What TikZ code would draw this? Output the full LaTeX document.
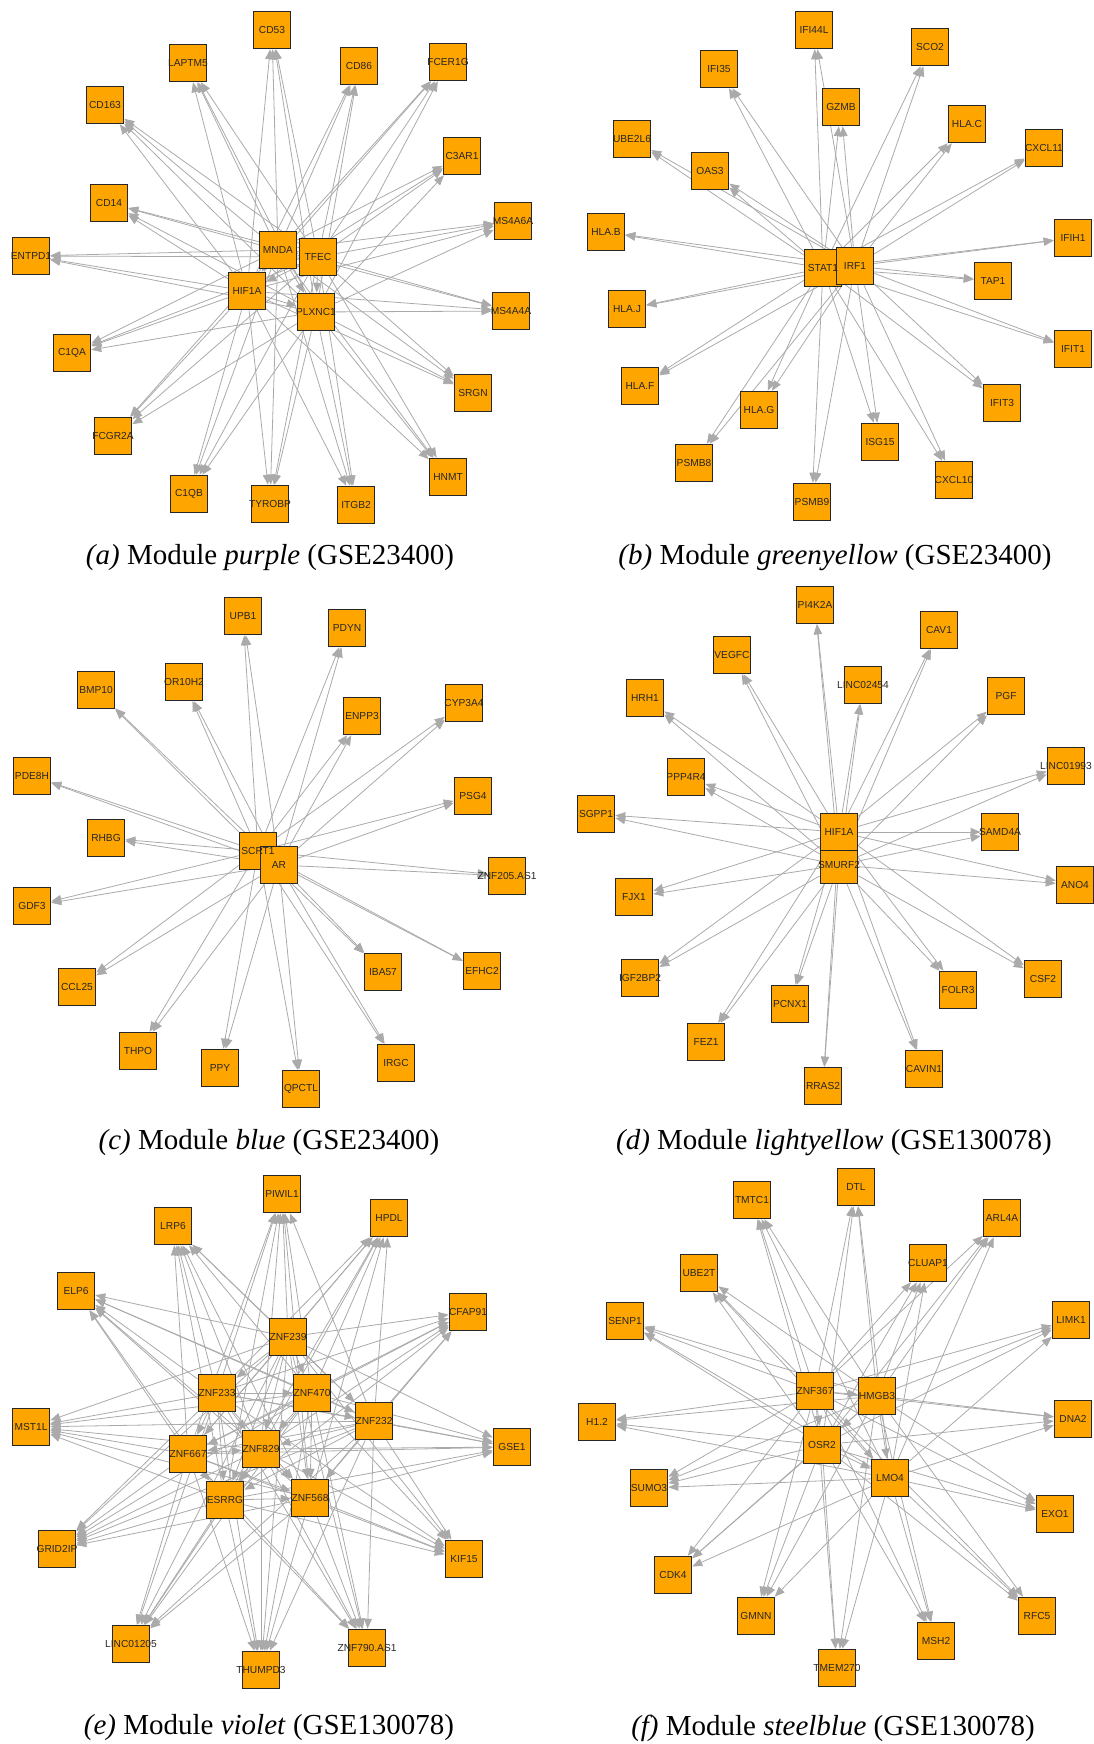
\documentclass[tikz,border=0pt]{standalone}
\usepackage{fontspec}
\setmainfont{Liberation Serif}
\newfontfamily\genefont{Liberation Sans}
\usetikzlibrary{arrows.meta, backgrounds}
\definecolor{geneorange}{RGB}{255,165,0}
\definecolor{edgegray}{RGB}{170,170,170}
\newcommand{\gn}[1]{\makebox[0pt]{#1}}

\begin{document}
\begin{tikzpicture}[x=0.5pt, y=-0.5pt]
    % Define styles
    \tikzstyle{gene} = [rectangle, draw=black!85, line width=0.6pt, fill=geneorange,
                        minimum size=18.7pt, inner sep=0pt, text=black!85,
                        font=\genefont\fontsize{5.1}{5}\selectfont]
    \tikzstyle{genelabel} = [inner sep=0pt, text=black!85, font=\genefont\fontsize{5.1}{5}\selectfont]
    \tikzstyle{edge} = [draw=edgegray, line width=0.4pt, -{Triangle[length=5pt, width=4pt]}]
    \tikzstyle{caption} = [font=\fontsize{14.5}{16}\selectfont]

    \useasboundingbox (0,0) rectangle (1093,1744);

    % (a) purple
    \node[gene] (a-cd53) at (272,30) {\gn{CD53}};
    \node[gene] (a-laptm5) at (188,63) {\gn{LAPTM5}};
    \node[gene] (a-cd86) at (359,66) {\gn{CD86}};
    \node[gene] (a-fcer1g) at (448,62) {\gn{FCER1G}};
    \node[gene] (a-cd163) at (105,105) {\gn{CD163}};
    \node[gene] (a-c3ar1) at (462,156) {\gn{C3AR1}};
    \node[gene] (a-cd14) at (109,203) {\gn{CD14}};
    \node[gene] (a-ms4a6a) at (513,221) {\gn{MS4A6A}};
    \node[gene] (a-entpd1) at (31,256) {\gn{ENTPD1}};
    \node[gene] (a-mnda) at (278,250) {\gn{MNDA}};
    \node[gene] (a-tfec) at (318,257) {\gn{TFEC}};
    \node[gene] (a-hif1a) at (247,291) {\gn{HIF1A}};
    \node[gene] (a-plxnc1) at (316,312) {\gn{PLXNC1}};
    \node[gene] (a-ms4a4a) at (511,311) {\gn{MS4A4A}};
    \node[gene] (a-c1qa) at (72,353) {\gn{C1QA}};
    \node[gene] (a-srgn) at (473,393) {\gn{SRGN}};
    \node[gene] (a-fcgr2a) at (113,436) {\gn{FCGR2A}};
    \node[gene] (a-hnmt) at (448,477) {\gn{HNMT}};
    \node[gene] (a-c1qb) at (189,494) {\gn{C1QB}};
    \node[gene] (a-tyrobp) at (270,504) {\gn{TYROBP}};
    \node[gene] (a-itgb2) at (356,505) {\gn{ITGB2}};
    \node[caption] (cap-a) at (270,558) {\textit{(a)} Module \textit{purple} (GSE23400)};

    % (b) greenyellow
    \node[gene] (b-ifi44l) at (814,30) {\gn{IFI44L}};
    \node[gene] (b-ifi35) at (719,69) {\gn{IFI35}};
    \node[gene] (b-sco2) at (930,47) {\gn{SCO2}};
    \node[gene] (b-gzmb) at (841,107) {\gn{GZMB}};
    \node[gene] (b-hlac) at (967,124) {\gn{HLA.C}};
    \node[gene] (b-ube2l6) at (632,139) {\gn{UBE2L6}};
    \node[gene] (b-cxcl11) at (1044,148) {\gn{CXCL11}};
    \node[gene] (b-oas3) at (710,171) {\gn{OAS3}};
    \node[gene] (b-hlab) at (606,232) {\gn{HLA.B}};
    \node[gene] (b-ifih1) at (1073,238) {\gn{IFIH1}};
    \node[gene] (b-stat1) at (823,268) {};
    \node[gene] (b-irf1) at (855,266) {\gn{IRF1}};
    \node[genelabel] (b-stat1-text) at (b-stat1) {\gn{STAT1}};
    \node[gene] (b-tap1) at (993,281) {\gn{TAP1}};
    \node[gene] (b-hlaj) at (627,309) {\gn{HLA.J}};
    \node[gene] (b-ifit1) at (1073,349) {\gn{IFIT1}};
    \node[gene] (b-hlaf) at (640,386) {\gn{HLA.F}};
    \node[gene] (b-hlag) at (759,410) {\gn{HLA.G}};
    \node[gene] (b-ifit3) at (1002,403) {\gn{IFIT3}};
    \node[gene] (b-isg15) at (880,442) {\gn{ISG15}};
    \node[gene] (b-psmb8) at (694,463) {\gn{PSMB8}};
    \node[gene] (b-cxcl10) at (954,480) {\gn{CXCL10}};
    \node[gene] (b-psmb9) at (812,502) {\gn{PSMB9}};
    \node[caption] (cap-b) at (835,558) {\textit{(b)} Module \textit{greenyellow} (GSE23400)};

    % (c) blue
    \node[gene] (c-upb1) at (243,616) {\gn{UPB1}};
    \node[gene] (c-pdyn) at (347,628) {\gn{PDYN}};
    \node[gene] (c-bmp10) at (96,690) {\gn{BMP10}};
    \node[gene] (c-or10h2) at (184,682) {\gn{OR10H2}};
    \node[gene] (c-enpp3) at (362,716) {\gn{ENPP3}};
    \node[gene] (c-cyp3a4) at (464,703) {\gn{CYP3A4}};
    \node[gene] (c-pde8h) at (32,776) {\gn{PDE8H}};
    \node[gene] (c-psg4) at (473,796) {\gn{PSG4}};
    \node[gene] (c-rhbg) at (106,838) {\gn{RHBG}};
    \node[gene] (c-scrt1) at (258,851) {};
    \node[gene] (c-ar) at (279,865) {\gn{AR}};
    \node[genelabel] (c-scrt1-text) at (c-scrt1) {\gn{SCRT1}};
    \node[gene] (c-znf205as1) at (507,876) {\gn{ZNF205.AS1}};
    \node[gene] (c-gdf3) at (32,906) {\gn{GDF3}};
    \node[gene] (c-iba57) at (383,972) {\gn{IBA57}};
    \node[gene] (c-efhc2) at (482,971) {\gn{EFHC2}};
    \node[gene] (c-ccl25) at (77,987) {\gn{CCL25}};
    \node[gene] (c-thpo) at (138,1051) {\gn{THPO}};
    \node[gene] (c-ppy) at (220,1068) {\gn{PPY}};
    \node[gene] (c-irgc) at (396,1063) {\gn{IRGC}};
    \node[gene] (c-qpctl) at (301,1089) {\gn{QPCTL}};
    \node[caption] (cap-c) at (269,1143) {\textit{(c)} Module \textit{blue} (GSE23400)};

    % (d) lightyellow
    \node[gene] (d-pi4k2a) at (815,605) {\gn{PI4K2A}};
    \node[gene] (d-cav1) at (939,630) {\gn{CAV1}};
    \node[gene] (d-vegfc) at (732,655) {\gn{VEGFC}};
    \node[gene] (d-linc02454) at (863,685) {\gn{LINC02454}};
    \node[gene] (d-hrh1) at (645,698) {\gn{HRH1}};
    \node[gene] (d-pgf) at (1006,696) {\gn{PGF}};
    \node[gene] (d-linc01993) at (1066,766) {\gn{LINC01993}};
    \node[gene] (d-ppp4r4) at (686,777) {\gn{PPP4R4}};
    \node[gene] (d-sgpp1) at (596,814) {\gn{SGPP1}};
    \node[gene] (d-smurf2) at (839,865) {\gn{SMURF2}};
    \node[gene] (d-hif1a) at (839,832) {\gn{HIF1A}};
    \node[gene] (d-samd4a) at (1000,832) {\gn{SAMD4A}};
    \node[gene] (d-ano4) at (1075,885) {\gn{ANO4}};
    \node[gene] (d-fjx1) at (634,897) {\gn{FJX1}};
    \node[gene] (d-igf2bp2) at (640,978) {\gn{IGF2BP2}};
    \node[gene] (d-csf2) at (1043,979) {\gn{CSF2}};
    \node[gene] (d-folr3) at (958,990) {\gn{FOLR3}};
    \node[gene] (d-pcnx1) at (790,1004) {\gn{PCNX1}};
    \node[gene] (d-fez1) at (706,1042) {\gn{FEZ1}};
    \node[gene] (d-cavin1) at (924,1069) {\gn{CAVIN1}};
    \node[gene] (d-rras2) at (823,1086) {\gn{RRAS2}};
    \node[caption] (cap-d) at (834,1143) {\textit{(d)} Module \textit{lightyellow} (GSE130078)};

    % (e) violet
    \node[gene] (e-piwil1) at (282,1194) {\gn{PIWIL1}};
    \node[gene] (e-hpdl) at (389,1218) {\gn{HPDL}};
    \node[gene] (e-lrp6) at (173,1226) {\gn{LRP6}};
    \node[gene] (e-elp6) at (76,1291) {\gn{ELP6}};
    \node[gene] (e-cfap91) at (468,1312) {\gn{CFAP91}};
    \node[gene] (e-znf239) at (288,1337) {\gn{ZNF239}};
    \node[gene] (e-znf233) at (217,1393) {\gn{ZNF233}};
    \node[gene] (e-znf470) at (312,1393) {\gn{ZNF470}};
    \node[gene] (e-znf232) at (374,1421) {\gn{ZNF232}};
    \node[gene] (e-mst1l) at (31,1427) {\gn{MST1L}};
    \node[gene] (e-gse1) at (512,1447) {\gn{GSE1}};
    \node[gene] (e-znf667) at (188,1454) {\gn{ZNF667}};
    \node[gene] (e-znf829) at (261,1449) {\gn{ZNF829}};
    \node[gene] (e-esrrg) at (225,1500) {\gn{ESRRG}};
    \node[gene] (e-znf568) at (310,1498) {\gn{ZNF568}};
    \node[gene] (e-grid2ip) at (57,1549) {\gn{GRID2IP}};
    \node[gene] (e-kif15) at (464,1559) {\gn{KIF15}};
    \node[gene] (e-linc01205) at (131,1644) {\gn{LINC01205}};
    \node[gene] (e-znf790as1) at (367,1648) {\gn{ZNF790.AS1}};
    \node[gene] (e-thumpd3) at (261,1670) {\gn{THUMPD3}};
    \node[caption] (cap-e) at (269,1728) {\textit{(e)} Module \textit{violet} (GSE130078)};

    % (f) steelblue
    \node[gene] (f-dtl) at (856,1187) {\gn{DTL}};
    \node[gene] (f-tmtc1) at (752,1200) {\gn{TMTC1}};
    \node[gene] (f-arl4a) at (1002,1218) {\gn{ARL4A}};
    \node[gene] (f-ube2t) at (699,1273) {\gn{UBE2T}};
    \node[gene] (f-cluap1) at (928,1263) {\gn{CLUAP1}};
    \node[gene] (f-senp1) at (625,1321) {\gn{SENP1}};
    \node[gene] (f-limk1) at (1071,1320) {\gn{LIMK1}};
    \node[gene] (f-znf367) at (815,1391) {\gn{ZNF367}};
    \node[gene] (f-hmgb3) at (877,1396) {\gn{HMGB3}};
    \node[gene] (f-h12) at (597,1422) {\gn{H1.2}};
    \node[gene] (f-dna2) at (1073,1419) {\gn{DNA2}};
    \node[gene] (f-osr2) at (822,1445) {\gn{OSR2}};
    \node[gene] (f-lmo4) at (890,1478) {\gn{LMO4}};
    \node[gene] (f-sumo3) at (649,1488) {\gn{SUMO3}};
    \node[gene] (f-exo1) at (1055,1514) {\gn{EXO1}};
    \node[gene] (f-cdk4) at (673,1575) {\gn{CDK4}};
    \node[gene] (f-gmnn) at (756,1616) {\gn{GMNN}};
    \node[gene] (f-rfc5) at (1037,1616) {\gn{RFC5}};
    \node[gene] (f-msh2) at (936,1641) {\gn{MSH2}};
    \node[gene] (f-tmem270) at (837,1668) {\gn{TMEM270}};
    \node[caption] (cap-f) at (833,1728) {\textit{(f)} Module \textit{steelblue} (GSE130078)};

    % Draw arrows (under the boxes)
    \begin{scope}[on background layer]
    \foreach \h in {a-mnda, a-tfec, a-hif1a, a-plxnc1}
        \foreach \t in {a-cd53, a-laptm5, a-cd86, a-fcer1g, a-cd163, a-c3ar1, a-cd14, a-ms4a6a, a-entpd1,
                        a-ms4a4a, a-c1qa, a-srgn, a-fcgr2a, a-hnmt, a-c1qb, a-tyrobp, a-itgb2}
            \draw[edge] (\h) -- (\t);
    \draw[edge] (a-mnda) -- (a-tfec);
    \draw[edge] (a-mnda) -- (a-hif1a);
    \draw[edge] (a-mnda) -- (a-plxnc1);
    \draw[edge] (a-tfec) -- (a-hif1a);
    \draw[edge] (a-tfec) -- (a-plxnc1);
    \draw[edge] (a-hif1a) -- (a-plxnc1);

    \foreach \h in {b-stat1, b-irf1}
        \foreach \t in {b-ifi44l, b-ifi35, b-sco2, b-gzmb, b-hlac, b-ube2l6, b-cxcl11, b-oas3, b-hlab, b-ifih1,
                        b-tap1, b-hlaj, b-ifit1, b-hlaf, b-hlag, b-ifit3, b-isg15, b-psmb8, b-cxcl10, b-psmb9}
            \draw[edge] (\h) -- (\t);

    \foreach \h in {c-scrt1, c-ar}
        \foreach \t in {c-upb1, c-pdyn, c-bmp10, c-or10h2, c-enpp3, c-cyp3a4, c-pde8h, c-psg4, c-rhbg,
                        c-znf205as1, c-gdf3, c-iba57, c-efhc2, c-ccl25, c-thpo, c-ppy, c-irgc, c-qpctl}
            \draw[edge] (\h) -- (\t);

    \foreach \h in {d-hif1a, d-smurf2}
        \foreach \t in {d-pi4k2a, d-cav1, d-vegfc, d-linc02454, d-hrh1, d-pgf, d-linc01993, d-ppp4r4, d-sgpp1,
                        d-samd4a, d-ano4, d-fjx1, d-igf2bp2, d-csf2, d-folr3, d-pcnx1, d-fez1, d-cavin1, d-rras2}
            \draw[edge] (\h) -- (\t);

    \foreach \h in {e-znf239, e-znf233, e-znf470, e-znf232, e-znf667, e-znf829, e-esrrg, e-znf568}
        \foreach \t in {e-piwil1, e-hpdl, e-lrp6, e-elp6, e-cfap91, e-mst1l, e-gse1, e-grid2ip, e-kif15,
                        e-linc01205, e-znf790as1, e-thumpd3}
            \draw[edge] (\h) -- (\t);
    \foreach \h/\t in {e-znf239/e-znf233, e-znf239/e-znf470, e-znf239/e-znf232, e-znf239/e-znf667,
                       e-znf239/e-znf829, e-znf239/e-esrrg, e-znf239/e-znf568, e-znf233/e-znf470,
                       e-znf233/e-znf232, e-znf233/e-znf667, e-znf233/e-znf829, e-znf233/e-esrrg,
                       e-znf233/e-znf568, e-znf470/e-znf232, e-znf470/e-znf667, e-znf470/e-znf829,
                       e-znf470/e-esrrg, e-znf470/e-znf568, e-znf232/e-znf667, e-znf232/e-znf829,
                       e-znf232/e-esrrg, e-znf232/e-znf568, e-znf667/e-znf829, e-znf667/e-esrrg,
                       e-znf667/e-znf568, e-znf829/e-esrrg, e-znf829/e-znf568, e-esrrg/e-znf568}
        \draw[edge] (\h) -- (\t);

    \foreach \h in {f-znf367, f-hmgb3, f-osr2, f-lmo4}
        \foreach \t in {f-dtl, f-tmtc1, f-arl4a, f-ube2t, f-cluap1, f-senp1, f-limk1, f-h12, f-dna2,
                        f-sumo3, f-exo1, f-cdk4, f-gmnn, f-rfc5, f-msh2, f-tmem270}
            \draw[edge] (\h) -- (\t);
    \draw[edge] (f-znf367) -- (f-hmgb3);
    \draw[edge] (f-znf367) -- (f-osr2);
    \draw[edge] (f-znf367) -- (f-lmo4);
    \draw[edge] (f-hmgb3) -- (f-osr2);
    \draw[edge] (f-hmgb3) -- (f-lmo4);
    \draw[edge] (f-osr2) -- (f-lmo4);
    \end{scope}
\end{tikzpicture}
\end{document}
